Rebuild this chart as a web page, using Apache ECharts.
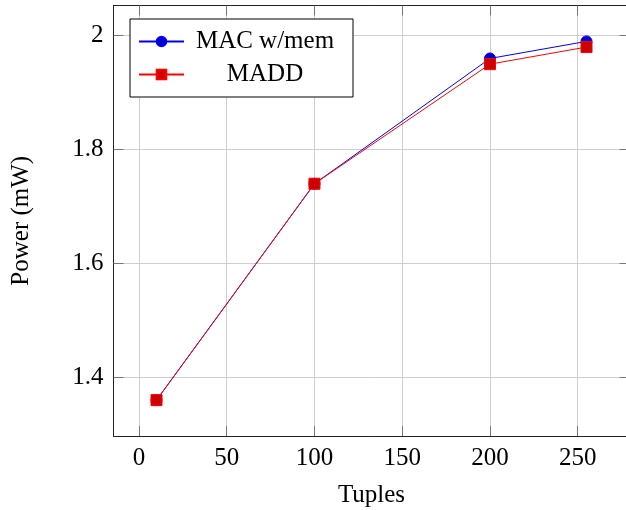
<!DOCTYPE html>
<html>
<head>
<meta charset="utf-8">
<script src="https://cdn.jsdelivr.net/npm/echarts@6/dist/echarts.min.js"></script>
<style>
  html, body { margin: 0; padding: 0; background: #fff; }
  #chart { width: 626px; height: 510px; }
</style>
</head>
<body>
<div id="chart"></div>
<script>
var tuples = [10, 100, 200, 255];
var macMem = [1.36, 1.74, 1.96, 1.99];
var madd = [1.36, 1.74, 1.95, 1.98];
var xTicks = [0, 50, 100, 150, 200, 250];
var yTicks = [1.4, 1.6, 1.8, 2];

var FONT = '"Liberation Serif", "DejaVu Serif", serif';

function pairs(xs, ys) {
    return xs.map(function (x, i) { return [x, ys[i]]; });
}

var chart = echarts.init(document.getElementById('chart'));

var baseX = {
    type: 'value',
    min: -14.5,
    max: 279.5,
    axisLine: { show: true, onZero: false, lineStyle: { color: '#222', width: 1 } },
    axisTick: { show: true, inside: true, length: 10, customValues: xTicks, lineStyle: { color: '#777' } },
    splitLine: { show: false }
};
var baseY = {
    type: 'value',
    min: 1.297,
    max: 2.053,
    axisLine: { show: true, onZero: false, lineStyle: { color: '#222', width: 1 } },
    axisTick: { show: true, inside: true, length: 10, customValues: yTicks, lineStyle: { color: '#777' } },
    splitLine: { show: false }
};

chart.setOption({
    animation: false,
    backgroundColor: '#fff',
    textStyle: { fontFamily: FONT },
    grid: { left: 113.5, top: 5.5, width: 516, height: 430.5, containLabel: false, outerBoundsMode: 'none' },
    xAxis: [
        echarts.util.merge({
            position: 'bottom',
            name: 'Tuples',
            nameLocation: 'middle',
            nameGap: 47,
            nameTextStyle: { fontFamily: FONT, fontSize: 25, color: '#000' },
            axisLabel: { show: true, customValues: xTicks, margin: 10, fontFamily: FONT, fontSize: 25, color: '#000' },
            splitLine: { show: true, lineStyle: { color: '#cfcfcf', width: 1 } }
        }, baseX, false),
        echarts.util.merge({ position: 'top', axisLabel: { show: false } }, baseX, false)
    ],
    yAxis: [
        echarts.util.merge({
            position: 'left',
            name: 'Power (mW)',
            nameLocation: 'middle',
            nameGap: 80,
            nameTextStyle: { fontFamily: FONT, fontSize: 25, color: '#000' },
            axisLabel: { show: true, customValues: yTicks, margin: 10, fontFamily: FONT, fontSize: 25, color: '#000' },
            splitLine: { show: true, lineStyle: { color: '#cfcfcf', width: 1 } }
        }, baseY, false),
        echarts.util.merge({
            position: 'right',
            axisLabel: { show: false },
            axisLine: { show: false }
        }, baseY, false)
    ],
    legend: {
        orient: 'vertical',
        left: 130,
        top: 19,
        padding: [10, 12, 10, 8],
        itemGap: 8,
        itemWidth: 45,
        itemHeight: 12,
        backgroundColor: '#fff',
        borderColor: '#000',
        borderWidth: 1,
        borderRadius: 0,
        formatter: '{t|{name}}',
        textStyle: {
            rich: {
                t: { width: 152, align: 'center', fontFamily: FONT, fontSize: 25, lineHeight: 24, color: '#000' }
            }
        },
        data: ['MAC w/mem', 'MADD']
    },
    series: [
        {
            name: 'MAC w/mem',
            type: 'line',
            data: pairs(tuples, macMem),
            symbol: 'circle',
            symbolSize: 11,
            lineStyle: { color: '#0000ff', width: 1 },
            itemStyle: { color: '#0000cc', borderColor: '#0000ff', borderWidth: 1 },
            clip: false
        },
        {
            name: 'MADD',
            type: 'line',
            data: pairs(tuples, madd),
            symbol: 'rect',
            symbolSize: 11,
            lineStyle: { color: '#ff0000', width: 1 },
            itemStyle: { color: '#cc0000', borderColor: '#ff0000', borderWidth: 1 },
            clip: false
        }
    ]
});

window.addEventListener('resize', chart.resize);
</script>
</body>
</html>
